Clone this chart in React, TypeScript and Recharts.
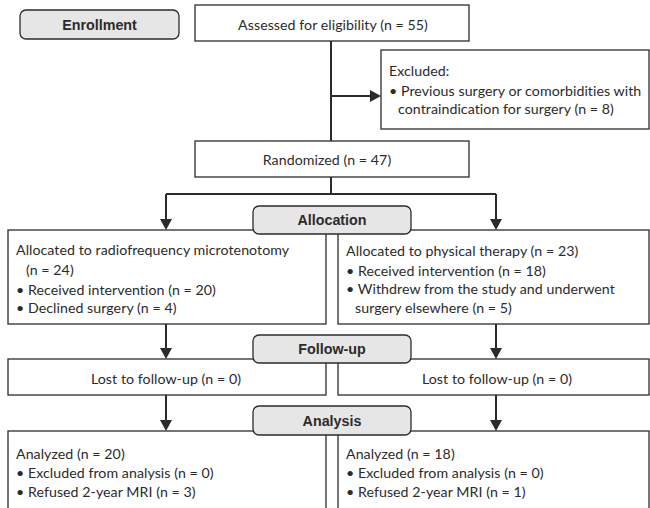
import React from "react";
import {
  ComposedChart,
  XAxis,
  YAxis,
  Scatter,
  ReferenceArea,
  ReferenceLine,
} from "recharts";

// Diagram coordinate space: x 0..650, y 0..508 (top to bottom)
const flowBoxes = [
  { id: "assessed", x1: 195, x2: 469, y1: 5, y2: 41 },
  { id: "excluded", x1: 381, x2: 649, y1: 50, y2: 129 },
  { id: "randomized", x1: 195, x2: 469, y1: 141, y2: 177 },
  { id: "allocL", x1: 8, x2: 326, y1: 230, y2: 324 },
  { id: "allocR", x1: 338, x2: 649, y1: 230, y2: 324 },
  { id: "followL", x1: 8, x2: 326, y1: 359, y2: 395 },
  { id: "followR", x1: 338, x2: 649, y1: 359, y2: 395 },
  { id: "analysisL", x1: 8, x2: 326, y1: 431, y2: 515 },
  { id: "analysisR", x1: 338, x2: 649, y1: 431, y2: 515 },
];

const stageBoxes = [
  { label: "Enrollment", x1: 20, x2: 179, y1: 10, y2: 39 },
  { label: "Allocation", x1: 253, x2: 411, y1: 206, y2: 234 },
  { label: "Follow-up", x1: 253, x2: 411, y1: 335, y2: 363 },
  { label: "Analysis", x1: 253, x2: 411, y1: 406, y2: 435 },
];

const connectors = [
  [[331, 41], [331, 141]],
  [[331, 96], [372, 96]],
  [[331, 177], [331, 194]],
  [[166, 194], [496, 194]],
  [[166, 194], [166, 222]],
  [[496, 194], [496, 222]],
  [[166, 324], [166, 351]],
  [[496, 324], [496, 351]],
  [[166, 395], [166, 423]],
  [[496, 395], [496, 423]],
];

const downArrowTips = [
  { x: 166, y: 230 },
  { x: 496, y: 230 },
  { x: 166, y: 359 },
  { x: 496, y: 359 },
  { x: 166, y: 431 },
  { x: 496, y: 431 },
];
const rightArrowTips = [{ x: 381, y: 96 }];

const centerTexts = [
  { x: 333, y: 24, text: "Assessed for eligibility (n = 55)" },
  { x: 327, y: 159, text: "Randomized (n = 47)" },
  { x: 166, y: 378, text: "Lost to follow-up (n = 0)" },
  { x: 497, y: 378, text: "Lost to follow-up (n = 0)" },
];

const leftTexts = [
  { x: 389, y: 70, text: "Excluded:" },
  { x: 389, y: 90, text: "• Previous surgery or comorbidities with" },
  { x: 398, y: 108, text: "contraindication for surgery (n = 8)" },
  { x: 16, y: 249, text: "Allocated to radiofrequency microtenotomy" },
  { x: 26, y: 269, text: "(n = 24)" },
  { x: 16, y: 289, text: "• Received intervention (n = 20)" },
  { x: 16, y: 307, text: "• Declined surgery (n = 4)" },
  { x: 346, y: 250, text: "Allocated to physical therapy (n = 23)" },
  { x: 346, y: 270, text: "• Received intervention (n = 18)" },
  { x: 346, y: 288, text: "• Withdrew from the study and underwent" },
  { x: 355, y: 307, text: "surgery elsewhere (n = 5)" },
  { x: 16, y: 453, text: "Analyzed (n = 20)" },
  { x: 16, y: 472, text: "• Excluded from analysis (n = 0)" },
  { x: 16, y: 491, text: "• Refused 2-year MRI (n = 3)" },
  { x: 346, y: 453, text: "Analyzed (n = 18)" },
  { x: 346, y: 472, text: "• Excluded from analysis (n = 0)" },
  { x: 346, y: 491, text: "• Refused 2-year MRI (n = 1)" },
];

const stageLabelPoints = stageBoxes.map((s) => ({
  x: (s.x1 + s.x2) / 2,
  y: (s.y1 + s.y2) / 2,
  text: s.label,
}));

const INK = "#2b2b2b";
const BODY_FONT = "Lato, 'Open Sans', sans-serif";
const LABEL_FONT = "'Liberation Sans', Arial, sans-serif";

const BodyText = (anchor: "start" | "middle") => (p: any) => (
  <text
    x={p.cx}
    y={p.cy}
    textAnchor={anchor}
    dominantBaseline="central"
    fontFamily={BODY_FONT}
    fontSize={14.2}
    letterSpacing={0.05}
    fill={INK}
  >
    {p.payload.text}
  </text>
);

const StageText = (p: any) => (
  <text
    x={p.cx}
    y={p.cy}
    textAnchor="middle"
    dominantBaseline="central"
    fontFamily={LABEL_FONT}
    fontWeight="bold"
    fontSize={14.3}
    fill={INK}
  >
    {p.payload.text}
  </text>
);

const DownArrow = (p: any) => (
  <path
    d={`M${p.cx - 6},${p.cy - 11} L${p.cx + 6},${p.cy - 11} L${p.cx},${p.cy} Z`}
    fill={INK}
  />
);
const RightArrow = (p: any) => (
  <path
    d={`M${p.cx - 11},${p.cy - 6} L${p.cx - 11},${p.cy + 6} L${p.cx},${p.cy} Z`}
    fill={INK}
  />
);

export default function App() {
  return (
    <div style={{ position: "absolute", left: 0, top: 0, background: "#fff" }}>
      <ComposedChart
        width={650}
        height={508}
        margin={{ top: 0, right: 0, bottom: 0, left: 0 }}
        data={[]}
      >
        <XAxis type="number" dataKey="x" domain={[0, 650]} hide allowDataOverflow />
        <YAxis type="number" dataKey="y" domain={[0, 508]} reversed hide allowDataOverflow />

        {connectors.map((c, i) => (
          <ReferenceLine
            key={`c${i}`}
            segment={[
              { x: c[0][0], y: c[0][1] },
              { x: c[1][0], y: c[1][1] },
            ]}
            stroke={INK}
            strokeWidth={2}
            ifOverflow="visible"
          />
        ))}

        {flowBoxes.map((b) => (
          <ReferenceArea
            key={b.id}
            x1={b.x1}
            x2={b.x2}
            y1={b.y1}
            y2={b.y2}
            ifOverflow="visible"
            shape={(p: any) => (
              <rect
                x={p.x}
                y={p.y}
                width={p.width}
                height={p.height}
                fill="#ffffff"
                stroke={INK}
                strokeWidth={1.3}
              />
            )}
          />
        ))}

        {stageBoxes.map((s) => (
          <ReferenceArea
            key={s.label}
            x1={s.x1}
            x2={s.x2}
            y1={s.y1}
            y2={s.y2}
            ifOverflow="visible"
            shape={(p: any) => (
              <rect
                x={p.x}
                y={p.y}
                width={p.width}
                height={p.height}
                rx={6}
                ry={6}
                fill="#e6e6e6"
                stroke={INK}
                strokeWidth={1.3}
              />
            )}
          />
        ))}

        <Scatter data={downArrowTips} dataKey="y" shape={DownArrow} isAnimationActive={false} />
        <Scatter data={rightArrowTips} dataKey="y" shape={RightArrow} isAnimationActive={false} />
        <Scatter data={centerTexts} dataKey="y" shape={BodyText("middle")} isAnimationActive={false} />
        <Scatter data={leftTexts} dataKey="y" shape={BodyText("start")} isAnimationActive={false} />
        <Scatter data={stageLabelPoints} dataKey="y" shape={StageText} isAnimationActive={false} />
      </ComposedChart>
    </div>
  );
}
